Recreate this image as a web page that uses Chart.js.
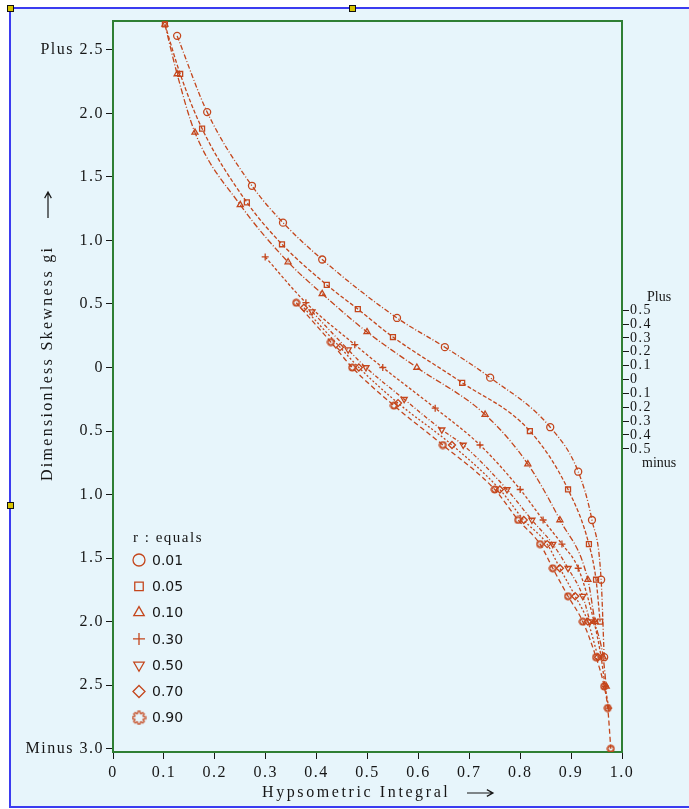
<!DOCTYPE html>
<html>
<head>
<meta charset="utf-8">
<title>Hypsometric integral vs dimensionless skewness</title>
<script src="https://cdn.jsdelivr.net/npm/chart.js@4.4.1/dist/chart.umd.min.js"></script>
<style>
  html, body { margin: 0; padding: 0; background: #fff; }
  body { width: 689px; height: 809px; position: relative; overflow: hidden; }
  #frame { position: absolute; left: 9px; top: 7px; width: 700px; height: 797px;
           background: #e7f5fb; border: 2px solid #3b3bf0; border-right: none; }
  .handle { position: absolute; width: 5px; height: 5px; background: #d8c400; border: 1px solid #111; }
  canvas { position: absolute; left: 0; top: 0; }
</style>
</head>
<body>
<div id="frame"></div>
<div class="handle" style="left:7px; top:5px"></div>
<div class="handle" style="left:349px; top:5px"></div>
<div class="handle" style="left:7px; top:502px"></div>
<canvas id="chart" width="689" height="809"></canvas>
<script>
const rLabels = ['0.01', '0.05', '0.10', '0.30', '0.50', '0.70', '0.90'];

// hypsometric integral (x) and skewness gi (y)
const hi001 = [0.126, 0.185, 0.273, 0.334, 0.411, 0.558, 0.652, 0.741, 0.859, 0.914, 0.941, 0.959, 0.965];
const g001  = [2.61, 2.01, 1.43, 1.14, 0.85, 0.39, 0.16, -0.08, -0.47, -0.82, -1.20, -1.67, -2.28];

const hi005 = [0.102, 0.132, 0.175, 0.263, 0.332, 0.420, 0.481, 0.550, 0.686, 0.819, 0.894, 0.935, 0.949, 0.957];
const g005  = [2.70, 2.31, 1.88, 1.30, 0.97, 0.65, 0.46, 0.24, -0.12, -0.50, -0.96, -1.39, -1.67, -2.00];

const hi010 = [0.102, 0.126, 0.161, 0.250, 0.344, 0.411, 0.499, 0.597, 0.731, 0.815, 0.878, 0.933, 0.947, 0.963, 0.969];
const g010  = [2.70, 2.31, 1.85, 1.28, 0.83, 0.58, 0.28, 0.00, -0.37, -0.76, -1.20, -1.67, -2.00, -2.28, -2.51];

const hi030 = [0.299, 0.379, 0.475, 0.530, 0.633, 0.721, 0.800, 0.845, 0.882, 0.914, 0.945, 0.959, 0.967, 0.974];
const g030  = [0.87, 0.51, 0.18, 0.00, -0.32, -0.61, -0.96, -1.20, -1.39, -1.58, -2.00, -2.28, -2.51, -2.68];

const hi050 = [0.391, 0.462, 0.497, 0.572, 0.646, 0.688, 0.774, 0.823, 0.864, 0.894, 0.923, 0.937];
const g050  = [0.44, 0.14, 0.00, -0.25, -0.49, -0.61, -0.96, -1.20, -1.39, -1.58, -1.80, -2.00];

const hi070 = [0.375, 0.446, 0.483, 0.560, 0.666, 0.760, 0.807, 0.853, 0.878, 0.908, 0.933, 0.953];
const g070  = [0.47, 0.16, 0.00, -0.28, -0.61, -0.96, -1.20, -1.39, -1.58, -1.80, -2.00, -2.28];

const hi090 = [0.360, 0.428, 0.470, 0.552, 0.648, 0.750, 0.796, 0.839, 0.864, 0.894, 0.923, 0.949, 0.965, 0.972, 0.978];
const g090  = [0.51, 0.20, 0.00, -0.30, -0.61, -0.96, -1.20, -1.39, -1.58, -1.80, -2.00, -2.28, -2.51, -2.68, -3.00];

const xTickValues = [0, 0.1, 0.2, 0.3, 0.4, 0.5, 0.6, 0.7, 0.8, 0.9, 1.0];
const xTickLabels = ['0', '0.1', '0.2', '0.3', '0.4', '0.5', '0.6', '0.7', '0.8', '0.9', '1.0'];
const yTickValues = [-3.0, -2.5, -2.0, -1.5, -1.0, -0.5, 0, 0.5, 1.0, 1.5, 2.0, 2.5];
const yTickLabels = ['Minus 3.0', '2.5', '2.0', '1.5', '1.0', '0.5', '0', '0.5', '1.0', '1.5', '2.0', 'Plus 2.5'];
const rightTickValues = [-0.5, -0.4, -0.3, -0.2, -0.1, 0, 0.1, 0.2, 0.3, 0.4, 0.5];
const rightTickLabels = ['0.5', '0.4', '0.3', '0.2', '0.1', '0', '0.1', '0.2', '0.3', '0.4', '0.5'];

const lineColor = '#c4461c';
const textColor = '#161616';
const serif = 'Liberation Serif';

function makeGear(size) {
  const c = document.createElement('canvas');
  c.width = c.height = size;
  const g = c.getContext('2d');
  const R = size / 2 - 1, r = R * 0.7, m = size / 2;
  g.beginPath();
  for (let k = 0; k < 8; k++) {
    const t = k * Math.PI / 4;
    [[r, t - 0.3], [R, t - 0.17], [R, t + 0.17], [r, t + 0.3]].forEach(([rad, a], j) => {
      const px = m + rad * Math.cos(a), py = m + rad * Math.sin(a);
      if (k === 0 && j === 0) g.moveTo(px, py); else g.lineTo(px, py);
    });
  }
  g.closePath();
  g.strokeStyle = lineColor;
  g.lineWidth = 1.2;
  g.stroke();
  return c;
}
const gearSmall = makeGear(9);
const gearLarge = makeGear(15);

const markerStyles = ['circle', 'rect', 'triangle', 'cross', 'triangle', 'rectRot', gearSmall];
const legendStyles = ['circle', 'rect', 'triangle', 'cross', 'triangle', 'rectRot', gearLarge];
const markerRotation = [0, 0, 0, 0, 180, 0, 0];
const dashes = [[5, 2, 1, 2], [4, 2], [6, 2, 1, 2], [3, 2], [4, 2, 1, 2], [2, 2], [5, 3]];

const curves = [[hi001, g001], [hi005, g005], [hi010, g010], [hi030, g030], [hi050, g050], [hi070, g070], [hi090, g090]];

const datasets = curves.map(([hi, g], i) => ({
  label: 'r = ' + rLabels[i],
  data: hi.map((x, k) => ({ x, y: g[k] })),
  showLine: true,
  borderColor: lineColor,
  borderWidth: 1.3,
  borderDash: dashes[i],
  cubicInterpolationMode: 'monotone',
  pointStyle: markerStyles[i],
  pointRotation: markerRotation[i],
  pointRadius: 3.5,
  pointBorderWidth: 1.3,
  pointBorderColor: lineColor,
  pointBackgroundColor: 'rgba(0,0,0,0)'
}));

function arrow(ctx, x1, y1, x2, y2) {
  const a = Math.atan2(y2 - y1, x2 - x1);
  ctx.beginPath();
  ctx.moveTo(x1, y1);
  ctx.lineTo(x2, y2);
  ctx.moveTo(x2 - 7 * Math.cos(a - 0.5), y2 - 7 * Math.sin(a - 0.5));
  ctx.lineTo(x2, y2);
  ctx.lineTo(x2 - 7 * Math.cos(a + 0.5), y2 - 7 * Math.sin(a + 0.5));
  ctx.stroke();
}

const decor = {
  id: 'decor',
  beforeDraw(chart) {
    chart.ctx.letterSpacing = '1.5px';
  },
  beforeDatasetsDraw(chart) {
    const { ctx, chartArea: a } = chart;
    ctx.save();
    ctx.strokeStyle = '#2f7f34';
    ctx.lineWidth = 2;
    ctx.strokeRect(a.left, a.top, a.right - a.left, a.bottom - a.top);
    ctx.restore();
  },
  afterDraw(chart) {
    const { ctx, chartArea: a } = chart;
    ctx.save();
    ctx.fillStyle = textColor;
    ctx.strokeStyle = textColor;
    ctx.lineWidth = 1.2;
    ctx.textBaseline = 'middle';
    ctx.textAlign = 'left';
    ctx.font = '16px "' + serif + '"';

    // axis titles with long arrows
    ctx.letterSpacing = '2.6px';
    ctx.fillText('Hypsometric Integral', a.left + 149, a.bottom + 41);
    arrow(ctx, a.left + 354, a.bottom + 41, a.left + 380, a.bottom + 41);
    ctx.save();
    ctx.translate(48, a.bottom - 271);
    ctx.rotate(-Math.PI / 2);
    ctx.letterSpacing = '2.3px';
    ctx.fillText('Dimensionless Skewness gi', 0, 0);
    ctx.restore();
    arrow(ctx, 48, a.top + 197, 48, a.top + 171);

    // Plus / minus on the small right-hand scale
    const y2 = chart.scales.y2;
    ctx.font = '14px "' + serif + '"';
    ctx.letterSpacing = '0px';
    ctx.fillText('Plus', a.right + 25, y2.getPixelForValue(0.5) - 13);
    ctx.fillText('minus', a.right + 20, y2.getPixelForValue(-0.5) + 14);

    // legend inside the plot
    const lx = a.left + 26, ly = a.bottom - 214;
    ctx.font = '15px "' + serif + '"';
    ctx.letterSpacing = '1.5px';
    ctx.fillText('r : equals', a.left + 20, ly);
    ctx.font = '14px "DejaVu Sans"';
    ctx.letterSpacing = '0px';
    rLabels.forEach((lab, i) => {
      const y = ly + 22 + i * 26.3;
      ctx.strokeStyle = lineColor;
      ctx.fillStyle = 'rgba(0,0,0,0)';
      ctx.lineWidth = 1.3;
      Chart.helpers.drawPoint(ctx, { pointStyle: legendStyles[i], radius: 6, rotation: markerRotation[i], borderWidth: 1.3 }, lx, y);
      ctx.fillStyle = textColor;
      ctx.fillText(lab, lx + 13, y + 1);
    });
    ctx.restore();
  }
};

const tickFont = { family: serif, size: 16 };

new Chart(document.getElementById('chart'), {
  type: 'scatter',
  data: { datasets },
  options: {
    responsive: false,
    animation: false,
    devicePixelRatio: 1,
    layout: { padding: { top: 21, left: 0, right: 0, bottom: 0 } },
    plugins: { legend: { display: false }, tooltip: { enabled: false } },
    scales: {
      x: {
        type: 'linear', min: 0, max: 1,
        afterBuildTicks: s => { s.ticks = xTickValues.map(v => ({ value: v })); },
        afterFit: s => { s.height = 57; },
        grid: { drawOnChartArea: false, tickLength: 7, tickColor: textColor },
        border: { display: false },
        ticks: { autoSkip: false, maxRotation: 0, padding: 4, color: textColor, font: tickFont,
                 callback: (v, i) => xTickLabels[i] }
      },
      y: {
        type: 'linear', min: -3.026, max: 2.727,
        afterBuildTicks: s => { s.ticks = yTickValues.map(v => ({ value: v })); },
        afterFit: s => { s.width = 113; },
        grid: { drawOnChartArea: false, tickLength: 7, tickColor: textColor },
        border: { display: false },
        ticks: { autoSkip: false, padding: 2, color: textColor, font: tickFont,
                 callback: (v, i) => yTickLabels[i] }
      },
      y2: {
        type: 'linear', position: 'right', min: -2.686, max: 2.585,
        afterBuildTicks: s => { s.ticks = rightTickValues.map(v => ({ value: v })); },
        afterFit: s => { s.width = 67; },
        grid: { drawOnChartArea: false, tickLength: 7, tickColor: textColor },
        border: { display: false },
        ticks: { autoSkip: false, padding: 1, color: textColor, font: { family: serif, size: 14 },
                 callback: (v, i) => rightTickLabels[i] }
      }
    }
  },
  plugins: [decor]
});
</script>
</body>
</html>
